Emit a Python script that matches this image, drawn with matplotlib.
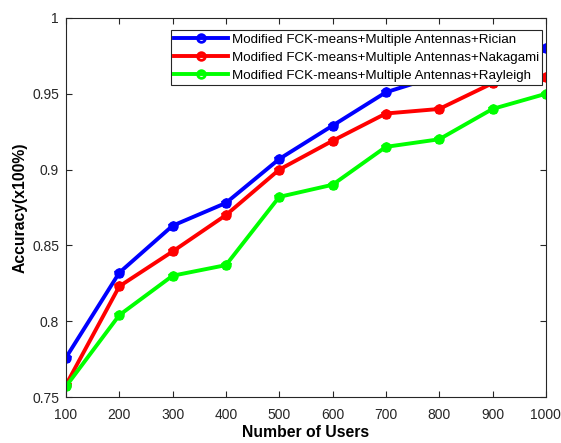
import matplotlib
matplotlib.use("Agg")
import matplotlib.pyplot as plt
from matplotlib.ticker import FuncFormatter

plt.rcParams['font.family'] = ['Liberation Sans', 'DejaVu Sans']

users = [100, 200, 300, 400, 500, 600, 700, 800, 900, 1000]
rician = [0.776, 0.832, 0.863, 0.878, 0.907, 0.929, 0.951, 0.962, 0.970, 0.980]
nakagami = [0.758, 0.823, 0.846, 0.870, 0.900, 0.919, 0.937, 0.940, 0.957, 0.961]
rayleigh = [0.757, 0.804, 0.830, 0.837, 0.882, 0.890, 0.915, 0.920, 0.940, 0.950]
labels = ['Modified FCK-means+Multiple Antennas+Rician',
          'Modified FCK-means+Multiple Antennas+Nakagami',
          'Modified FCK-means+Multiple Antennas+Rayleigh']
colors = ['#0000ff', '#ff0000', '#00ff00']

fig = plt.figure(figsize=(5.61, 4.43), dpi=100)
ax = fig.add_axes([0.1176, 0.1038, 0.8554, 0.8556])

handles = []
for ys, lab, c in zip([rician, nakagami, rayleigh], labels, colors):
    h, = ax.plot(users, ys, color=c, lw=2.8, marker='o', ms=5.5, mfc='none', mec=c, mew=2.0, label=lab)
    ax.plot(users, ys, color=c, lw=0, marker='*', ms=7.5, mec=c, mfc=c)
    handles.append(h)

ax.set_xlim(100, 1000)
ax.set_ylim(0.75, 1.0)
ax.set_xticks(users)
ax.set_yticks([0.75, 0.8, 0.85, 0.9, 0.95, 1.0])
ax.yaxis.set_major_formatter(FuncFormatter(lambda v, p: ('%g' % round(v, 2))))
ax.tick_params(direction='in', top=True, right=True, labelsize=10, colors='#262626', length=4)
ax.tick_params(axis='x', pad=8)
ax.tick_params(axis='y', pad=5)
for s in ax.spines.values():
    s.set_color('#262626')
    s.set_linewidth(0.8)
ax.set_xlabel('Number of Users', fontsize=11.3, fontweight='bold', labelpad=2)
ax.set_ylabel('Accuracy(x100%)', fontsize=11.3, fontweight='bold', labelpad=3)

leg = ax.legend(handles=handles, loc='upper right', fontsize=9.6, frameon=True, fancybox=False,
                edgecolor='#262626', framealpha=1, borderpad=0.25, handlelength=4.0,
                labelspacing=0.42, handletextpad=0.3, borderaxespad=0.0,
                bbox_to_anchor=(0.992, 0.967))
leg.get_frame().set_linewidth(0.8)

fig.savefig('out.png', dpi=100)
